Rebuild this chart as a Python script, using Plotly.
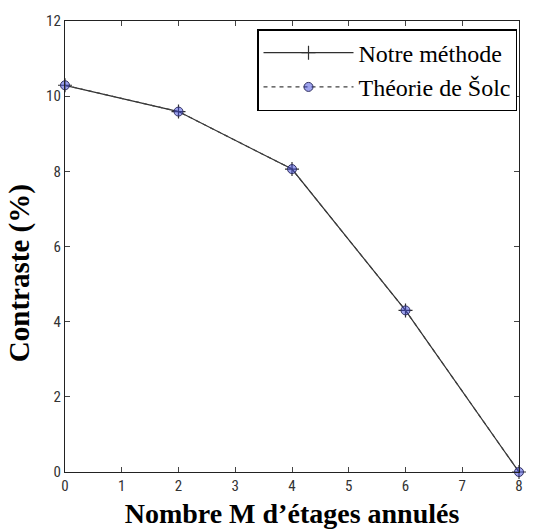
import plotly.graph_objects as go

m_values = [0, 2, 4, 6, 8]
contraste_notre = [10.29, 9.59, 8.06, 4.30, 0.0]
contraste_solc = [10.29, 9.59, 8.06, 4.30, 0.0]
x_ticks = [0, 1, 2, 3, 4, 5, 6, 7, 8]
y_ticks = [0, 2, 4, 6, 8, 10, 12]

SERIF = "Liberation Serif"

fig = go.Figure()
fig.add_trace(go.Scatter(
    x=m_values, y=contraste_notre, name="Notre méthode", mode="lines+markers",
    line=dict(color="#303030", width=1.2),
    marker=dict(symbol="cross-thin-open", size=10, line=dict(color="#202020", width=1.2)),
))
fig.add_trace(go.Scatter(
    x=m_values, y=contraste_solc, name="Théorie de Šolc", mode="lines+markers",
    line=dict(color="#404040", width=1.2, dash="4px,4px"),
    marker=dict(symbol="circle", size=9, color="rgba(60,70,220,0.5)",
                line=dict(color="#303060", width=1)),
))

tickfont = dict(family="Roboto Condensed, DejaVu Sans Condensed, sans-serif", size=15, color="#333")
fig.update_layout(
    width=533, height=532,
    margin=dict(l=65, r=14, t=15, b=60),
    paper_bgcolor="white", plot_bgcolor="white",
    showlegend=True,
    legend=dict(x=0.9956, y=0.982, xanchor="right", yanchor="top",
                bordercolor="black", borderwidth=1.5, bgcolor="white",
                font=dict(family=SERIF, size=24, color="black"),
                tracegroupgap=0, itemwidth=90),
    xaxis=dict(range=[0, 8], tickvals=x_ticks, ticks="inside", ticklen=5,
               showline=True, linecolor="#222", linewidth=1.2, mirror="ticks",
               showgrid=False, zeroline=False, tickfont=tickfont, automargin=False,
               title=dict(text="<b>Nombre M d’étages annulés</b>",
                          font=dict(family=SERIF, size=28, color="black"),
                          standoff=9)),
    yaxis=dict(range=[0, 12], tickvals=y_ticks, ticks="inside", ticklen=5,
               showline=True, linecolor="#222", linewidth=1.2, mirror="ticks",
               showgrid=False, zeroline=False, tickfont=tickfont),
    annotations=[dict(text="<b>Contraste (%)</b>", textangle=-90,
                      xref="paper", yref="paper", x=-0.1, y=0.44,
                      xanchor="center", yanchor="middle", showarrow=False,
                      font=dict(family=SERIF, size=29, color="black"))],
)
fig.update_traces(cliponaxis=False)
fig.write_html("out.html")
